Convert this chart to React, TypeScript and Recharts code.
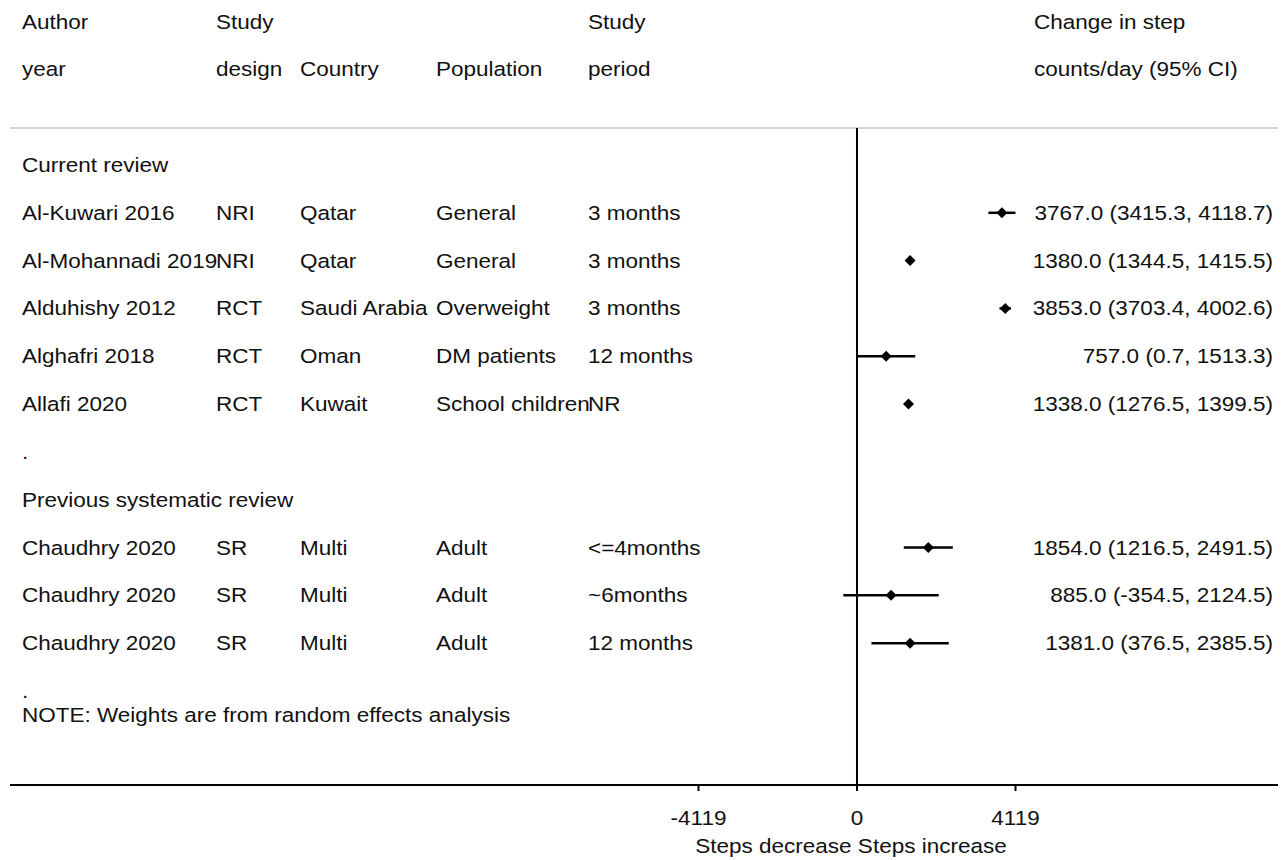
import React from "react";
import {
  ComposedChart,
  Scatter,
  XAxis,
  YAxis,
  ErrorBar,
  ReferenceLine,
} from "recharts";

// study rows
const authors = [
  "Al-Kuwari 2016",
  "Al-Mohannadi 2019",
  "Alduhishy 2012",
  "Alghafri 2018",
  "Allafi 2020",
  "Chaudhry 2020",
  "Chaudhry 2020",
  "Chaudhry 2020",
];
const designs = ["NRI", "NRI", "RCT", "RCT", "RCT", "SR", "SR", "SR"];
const countries = ["Qatar", "Qatar", "Saudi Arabia", "Oman", "Kuwait", "Multi", "Multi", "Multi"];
const populations = [
  "General",
  "General",
  "Overweight",
  "DM patients",
  "School children",
  "Adult",
  "Adult",
  "Adult",
];
const periods = [
  "3 months",
  "3 months",
  "3 months",
  "12 months",
  "NR",
  "<=4months",
  "~6months",
  "12 months",
];
const estimates = [3767.0, 1380.0, 3853.0, 757.0, 1338.0, 1854.0, 885.0, 1381.0];
const lower = [3415.3, 1344.5, 3703.4, 0.7, 1276.5, 1216.5, -354.5, 376.5];
const upper = [4118.7, 1415.5, 4002.6, 1513.3, 1399.5, 2491.5, 2124.5, 2385.5];
const studyRows = [1, 2, 3, 4, 5, 8, 9, 10];

// header + group labels
const headerTop = ["Author", "Study", "", "", "Study", "Change in step"];
const headerBottom = ["year", "design", "Country", "Population", "period", "counts/day (95% CI)"];
const groupLabels = [
  { row: 0, text: "Current review" },
  { row: 6, text: "." },
  { row: 7, text: "Previous systematic review" },
  { row: 11, text: "." },
  { row: 11.5, text: "NOTE: Weights are from random effects analysis" },
];

const xTicks = [-4119, 0, 4119];
const axisTitle = "Steps decrease Steps increase";

const colX = [22, 216, 300, 436, 588, 1034];
const valueRight = 1273;
const FONT = "'Liberation Sans', Arial, Helvetica, sans-serif";

const T = ({ x, y, anchor = "start", children }: any) => (
  <text
    transform={`translate(${x},${y}) scale(1.155,1)`}
    textAnchor={anchor}
    fontSize={19.5}
    fontFamily={FONT}
    fill="#111"
  >
    {children}
  </text>
);

const studyData = estimates.map((e, i) => ({
  x: e,
  y: studyRows[i],
  err: [e - lower[i], upper[i] - e],
  i,
}));

const textData = [
  { x: 0, y: -3, kind: "header", cols: headerTop },
  { x: 0, y: -2, kind: "header", cols: headerBottom },
  ...groupLabels.map((g) => ({ x: 0, y: g.row, kind: "group", cols: [g.text] })),
  ...studyData.map((d) => ({ x: 0, y: d.y, kind: "study", i: d.i })),
];

const fmt = (v: number) => v.toFixed(1);

const TextShape = (props: any) => {
  const { cy, payload } = props;
  const base = cy + 7;
  if (payload.kind === "study") {
    const i = payload.i;
    const cols = [authors[i], designs[i], countries[i], populations[i], periods[i]];
    return (
      <g>
        {cols.map((c, k) => (
          <T key={k} x={colX[k]} y={base}>
            {c}
          </T>
        ))}
        <T x={valueRight} y={base} anchor="end">
          {`${fmt(estimates[i])} (${fmt(lower[i])}, ${fmt(upper[i])})`}
        </T>
      </g>
    );
  }
  return (
    <g>
      {payload.cols.map((c: string, k: number) =>
        c ? (
          <T key={k} x={colX[k]} y={base}>
            {c}
          </T>
        ) : null
      )}
    </g>
  );
};

const Diamond = (props: any) => {
  const { cx, cy } = props;
  const r = 5.5;
  return (
    <polygon
      points={`${cx - r},${cy} ${cx},${cy - r} ${cx + r},${cy} ${cx},${cy + r}`}
      fill="#000"
    />
  );
};

const XTick = (props: any) => {
  const { x, y, payload } = props;
  return (
    <g>
      <T x={x} y={y + 34} anchor="middle">
        {String(payload.value)}
      </T>
      {payload.value === 0 ? (
        <T x={x - 6} y={y + 62} anchor="middle">
          {axisTitle}
        </T>
      ) : null}
    </g>
  );
};

const App = () => {
  return (
    <div style={{ position: "absolute", left: 0, top: 0, width: 1288, height: 860, background: "#fff" }}>
      <ComposedChart
        width={1288}
        height={860}
        margin={{ top: 0, right: 10, bottom: 5, left: 10 }}
      >
        <XAxis
          type="number"
          dataKey="x"
          domain={[-22011, 10941]}
          ticks={xTicks}
          interval={0}
          height={70}
          tickSize={6}
          tickMargin={0}
          axisLine={{ stroke: "#000", strokeWidth: 2 }}
          tickLine={{ stroke: "#000", strokeWidth: 2 }}
          tick={<XTick />}
        />
        <YAxis type="number" dataKey="y" domain={[-3.45, 12.966]} reversed hide />
        <ReferenceLine y={-0.774} stroke="#d4d4d4" strokeWidth={2} />
        <ReferenceLine
          segment={[
            { x: 0, y: -0.774 },
            { x: 0, y: 12.966 },
          ]}
          stroke="#000"
          strokeWidth={2}
        />
        <Scatter data={textData} shape={<TextShape />} isAnimationActive={false} />
        <Scatter data={studyData} shape={<Diamond />} isAnimationActive={false}>
          <ErrorBar dataKey="err" direction="x" width={0} stroke="#000" strokeWidth={2.5} />
        </Scatter>
      </ComposedChart>
    </div>
  );
};

export default App;
